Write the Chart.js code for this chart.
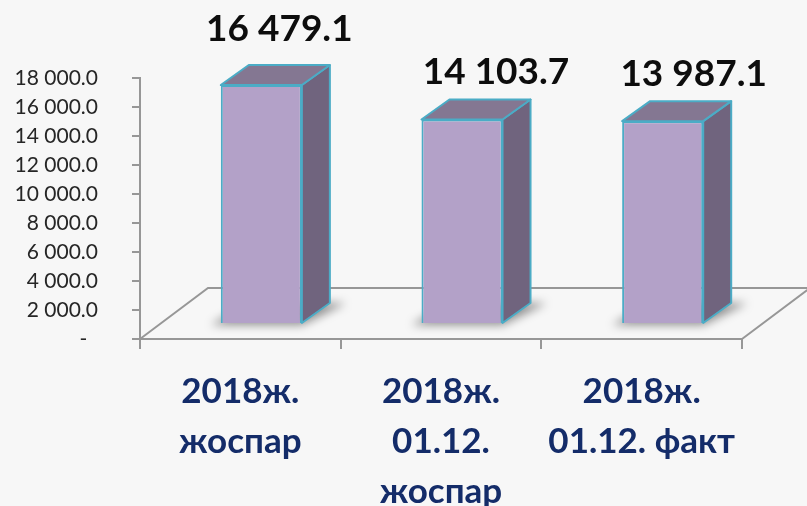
<!DOCTYPE html>
<html><head><meta charset="utf-8">
<script src="https://cdn.jsdelivr.net/npm/chart.js@4.4.0/dist/chart.umd.min.js"></script>
<style>html,body{margin:0;padding:0;background:#f7f7f7;}canvas{display:block;}</style>
</head><body>
<canvas id="c" width="807" height="506"></canvas>
<script>
const categories = [["2018ж.", "жоспар"], ["2018ж.", "01.12.", "жоспар"], ["2018ж.", "01.12. факт"]];
const values = [16479.1, 14103.7, 13987.1];
const valueLabels = ["16 479.1", "14 103.7", "13 987.1"];
const yTickValues = [0, 2000, 4000, 6000, 8000, 10000, 12000, 14000, 16000, 18000];

function fmtTick(v) {
  if (v === 0) return "-  ";
  const s = v.toFixed(1);
  const [i, d] = s.split(".");
  return i.replace(/\B(?=(\d{3})+(?!\d))/g, " ") + "." + d;
}

const SHIFT = {x: 21, y: -15};
const DEPTH = {x: 28, y: -20};
const FLOOR = {x: 68, y: -51};
const LABEL_OFF = [{x: 18, y: -44}, {x: 34, y: -35}, {x: 31, y: -35}];
const AXIS_GRAY = '#979797';

const bar3d = {
  id: 'bar3d',
  beforeDatasetsDraw(chart) {
    const {ctx, chartArea: a} = chart;
    const y0 = chart.scales.y.getPixelForValue(0);
    ctx.save();
    ctx.strokeStyle = AXIS_GRAY; ctx.lineWidth = 2;
    ctx.beginPath();
    ctx.moveTo(a.left, y0);
    ctx.lineTo(a.left + FLOOR.x, y0 + FLOOR.y);
    ctx.lineTo(a.right + FLOOR.x, y0 + FLOOR.y);
    ctx.lineTo(a.right, y0);
    ctx.stroke();
    const meta = chart.getDatasetMeta(0);
    ctx.filter = 'blur(5px)';
    ctx.fillStyle = 'rgba(0,0,0,0.42)';
    meta.data.forEach(b => {
      const l = b.x - b.width / 2 + SHIFT.x, r = b.x + b.width / 2 + SHIFT.x, by = b.base + SHIFT.y;
      ctx.beginPath();
      ctx.moveTo(l - 10, by + 2);
      ctx.lineTo(r, by + 2);
      ctx.lineTo(r + DEPTH.x + 16, by + DEPTH.y);
      ctx.lineTo(l + DEPTH.x, by + DEPTH.y);
      ctx.closePath();
      ctx.fill();
    });
    ctx.restore();
    ctx.save();
    ctx.translate(SHIFT.x, SHIFT.y);
  },
  afterDatasetsDraw(chart) {
    const ctx = chart.ctx;
    ctx.restore();
    const meta = chart.getDatasetMeta(0);
    ctx.save();
    ctx.lineWidth = 2; ctx.lineJoin = 'round';
    ctx.strokeStyle = '#4bacc6';
    meta.data.forEach((b, i) => {
      const l = b.x - b.width / 2 + SHIFT.x, r = b.x + b.width / 2 + SHIFT.x;
      const t = b.y + SHIFT.y, bt = b.base + SHIFT.y;
      ctx.fillStyle = '#70647e';
      ctx.beginPath();
      ctx.moveTo(r, t); ctx.lineTo(r + DEPTH.x, t + DEPTH.y);
      ctx.lineTo(r + DEPTH.x, bt + DEPTH.y); ctx.lineTo(r, bt);
      ctx.closePath(); ctx.fill(); ctx.stroke();
      ctx.fillStyle = '#847792';
      ctx.beginPath();
      ctx.moveTo(l, t); ctx.lineTo(r, t);
      ctx.lineTo(r + DEPTH.x, t + DEPTH.y); ctx.lineTo(l + DEPTH.x, t + DEPTH.y);
      ctx.closePath(); ctx.fill(); ctx.stroke();
    });
    ctx.fillStyle = '#0d0d0d';
    ctx.font = 'bold 37px Lato';
    ctx.textAlign = 'center';
    ctx.textBaseline = 'alphabetic';
    meta.data.forEach((b, i) => {
      const o = LABEL_OFF[i];
      ctx.fillText(valueLabels[i], b.x + SHIFT.x + o.x, b.y + SHIFT.y + o.y);
    });
    ctx.restore();
  }
};

new Chart(document.getElementById('c'), {
  type: 'bar',
  data: {
    labels: categories,
    datasets: [{
      data: values,
      backgroundColor: '#b3a1c8',
      borderColor: '#4bacc6',
      borderWidth: 2,
      barPercentage: 0.404,
      categoryPercentage: 1
    }]
  },
  options: {
    responsive: false,
    devicePixelRatio: 1,
    animation: false,
    layout: {padding: {top: 78, right: 65, bottom: 0, left: 0}},
    plugins: {legend: {display: false}, tooltip: {enabled: false}},
    scales: {
      x: {
        afterFit(s) { s.height = 167; },
        border: {color: AXIS_GRAY, width: 2},
        grid: {drawOnChartArea: false, drawTicks: true, tickLength: 10, color: AXIS_GRAY, lineWidth: 2},
        ticks: {
          color: '#142c69', padding: 18, maxRotation: 0, autoSkip: false,
          font: {family: 'Lato', weight: 'bold', size: 35, lineHeight: 1.42}
        }
      },
      y: {
        min: 0, max: 18000,
        afterFit(s) { s.width = 140; },
        afterBuildTicks(s) { s.ticks = yTickValues.map(v => ({value: v})); },
        border: {color: AXIS_GRAY, width: 2},
        grid: {drawOnChartArea: false, drawTicks: true, tickLength: 8, color: AXIS_GRAY, lineWidth: 2},
        ticks: {
          color: '#262626', padding: 34,
          font: {family: 'Lato', size: 21},
          callback: v => fmtTick(v)
        }
      }
    }
  },
  plugins: [bar3d]
});
</script>
</body></html>
